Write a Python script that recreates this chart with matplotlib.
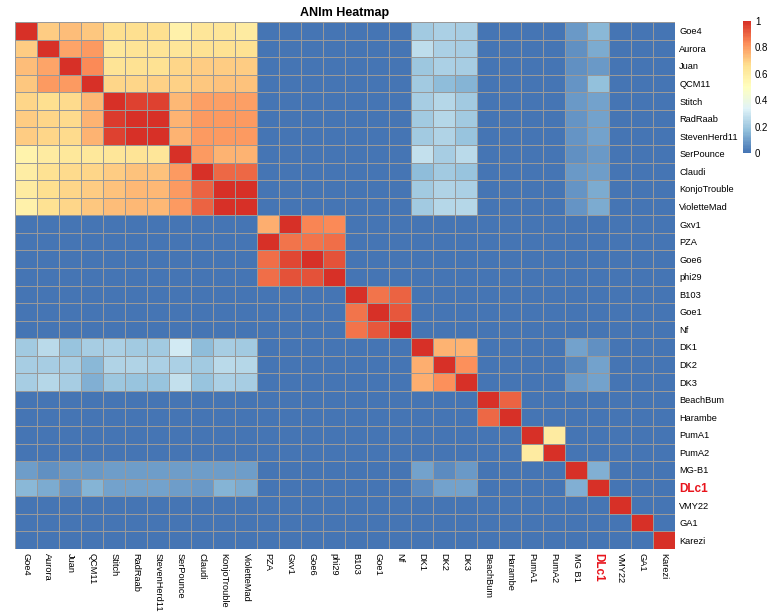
import numpy as np
import matplotlib
matplotlib.use("Agg")
import matplotlib.pyplot as plt
from matplotlib.colors import LinearSegmentedColormap

plt.rcParams['font.family'] = ['Liberation Sans', 'DejaVu Sans']

row_labels = ['Goe4', 'Aurora', 'Juan', 'QCM11', 'Stitch', 'RadRaab', 'StevenHerd11', 'SerPounce',
              'Claudi', 'KonjoTrouble', 'VioletteMad', 'Gxv1', 'PZA', 'Goe6', 'phi29', 'B103', 'Goe1',
              'Nf', 'DK1', 'DK2', 'DK3', 'BeachBum', 'Harambe', 'PumA1', 'PumA2', 'MG-B1', 'DLc1',
              'VMY22', 'GA1', 'Karezi']
col_labels = ['Goe4', 'Aurora', 'Juan', 'QCM11', 'Stitch', 'RadRaab', 'StevenHerd11', 'SerPounce',
              'Claudi', 'KonjoTrouble', 'VioletteMad', 'PZA', 'Gxv1', 'Goe6', 'phi29', 'B103', 'Goe1',
              'Nf', 'DK1', 'DK2', 'DK3', 'BeachBum', 'Harambe', 'PumA1', 'PumA2', 'MG B1', 'DLc1',
              'VMY22', 'GA1', 'Karezi']
highlight = 'DLc1'

# ANIm identity values, one row per genome (columns follow col_labels)
anim = [
    [1.00,.70,.73,.71,.66,.66,.66,.58,.63,.63,.60, 0,0,0,0,0,0,0, .20,.22,.21, 0,0,0,0, .08,.15, 0,0,0],
    [.70,1.00,.78,.80,.62,.64,.64,.63,.65,.65,.65, 0,0,0,0,0,0,0, .26,.22,.21, 0,0,0,0, .06,.12, 0,0,0],
    [.73,.78,1.00,.83,.64,.65,.65,.68,.70,.70,.70, 0,0,0,0,0,0,0, .19,.22,.21, 0,0,0,0, .06,.08, 0,0,0],
    [.71,.80,.80,1.00,.68,.68,.69,.69,.71,.72,.72, 0,0,0,0,0,0,0, .20,.16,.14, 0,0,0,0, .07,.17, 0,0,0],
    [.68,.66,.67,.74,1.00,.96,.96,.74,.79,.79,.79, 0,0,0,0,0,0,0, .21,.24,.20, 0,0,0,0, .08,.10, 0,0,0],
    [.70,.68,.67,.75,.97,1.00,1.00,.75,.80,.80,.80, 0,0,0,0,0,0,0, .20,.24,.20, 0,0,0,0, .07,.10, 0,0,0],
    [.70,.68,.67,.75,.96,1.00,1.00,.75,.80,.80,.80, 0,0,0,0,0,0,0, .20,.23,.18, 0,0,0,0, .07,.10, 0,0,0],
    [.56,.60,.62,.62,.63,.64,.63,1.00,.80,.75,.75, 0,0,0,0,0,0,0, .27,.21,.25, 0,0,0,0, .06,.08, 0,0,0],
    [.59,.65,.67,.68,.70,.72,.72,.80,1.00,.89,.89, 0,0,0,0,0,0,0, .16,.20,.18, 0,0,0,0, .08,.09, 0,0,0],
    [.60,.66,.68,.70,.72,.74,.74,.80,.90,1.00,1.00, 0,0,0,0,0,0,0, .20,.23,.22, 0,0,0,0, .07,.12, 0,0,0],
    [.58,.65,.68,.71,.73,.74,.74,.80,.90,1.00,1.00, 0,0,0,0,0,0,0, .20,.24,.24, 0,0,0,0, .07,.12, 0,0,0],
    [0,0,0,0,0,0,0,0,0,0,0, .76,1.00,.84,.83, 0,0,0, 0,0,0, 0,0,0,0, 0,0, 0,0,0],
    [0,0,0,0,0,0,0,0,0,0,0, 1.00,.87,.87,.88, 0,0,0, 0,0,0, 0,0,0,0, 0,0, 0,0,0],
    [0,0,0,0,0,0,0,0,0,0,0, .88,.95,1.00,.93, 0,0,0, 0,0,0, 0,0,0,0, 0,0, 0,0,0],
    [0,0,0,0,0,0,0,0,0,0,0, .88,.93,.93,1.00, 0,0,0, 0,0,0, 0,0,0,0, 0,0, 0,0,0],
    [0,0,0,0,0,0,0,0,0,0,0, 0,0,0,0, 1.00,.87,.90, 0,0,0, 0,0,0,0, 0,0, 0,0,0],
    [0,0,0,0,0,0,0,0,0,0,0, 0,0,0,0, .87,1.00,.92, 0,0,0, 0,0,0,0, 0,0, 0,0,0],
    [0,0,0,0,0,0,0,0,0,0,0, 0,0,0,0, .87,.92,1.00, 0,0,0, 0,0,0,0, 0,0, 0,0,0],
    [.20,.25,.18,.21,.22,.20,.20,.30,.16,.21,.20, 0,0,0,0,0,0,0, 1.00,.75,.75, 0,0,0,0, .10,.06, 0,0,0],
    [.21,.21,.21,.15,.23,.23,.22,.22,.20,.25,.24, 0,0,0,0,0,0,0, .76,1.00,.82, 0,0,0,0, .04,.10, 0,0,0],
    [.21,.24,.21,.13,.19,.18,.18,.27,.18,.22,.21, 0,0,0,0,0,0,0, .76,.82,1.00, 0,0,0,0, .08,.10, 0,0,0],
    [0,0,0,0,0,0,0,0,0,0,0, 0,0,0,0,0,0,0, 0,0,0, 1.00,.90, 0,0, 0,0, 0,0,0],
    [0,0,0,0,0,0,0,0,0,0,0, 0,0,0,0,0,0,0, 0,0,0, .89,1.00, 0,0, 0,0, 0,0,0],
    [0,0,0,0,0,0,0,0,0,0,0, 0,0,0,0,0,0,0, 0,0,0, 0,0, 1.00,.60, 0,0, 0,0,0],
    [0,0,0,0,0,0,0,0,0,0,0, 0,0,0,0,0,0,0, 0,0,0, 0,0, .60,1.00, 0,0, 0,0,0],
    [.09,.06,.08,.08,.09,.09,.09,.09,.09,.09,.09, 0,0,0,0,0,0,0, .10,.05,.08, 0,0,0,0, 1.00,.13, 0,0,0],
    [.15,.12,.07,.14,.10,.10,.10,.09,.08,.14,.12, 0,0,0,0,0,0,0, .05,.10,.10, 0,0,0,0, .13,1.00, 0,0,0],
    [0,0,0,0,0,0,0,0,0,0,0, 0,0,0,0,0,0,0, 0,0,0, 0,0,0,0, 0,0, 1.00,0,0],
    [0,0,0,0,0,0,0,0,0,0,0, 0,0,0,0,0,0,0, 0,0,0, 0,0,0,0, 0,0, 0,1.00,0],
    [0,0,0,0,0,0,0,0,0,0,0, 0,0,0,0,0,0,0, 0,0,0, 0,0,0,0, 0,0, 0,0,1.00],
]
cbar_ticks = [0, 0.2, 0.4, 0.6, 0.8, 1]

# pheatmap default palette: rev(RdYlBu, 7)
cmap = LinearSegmentedColormap.from_list(
    'pheat', ['#4575B4', '#91BFDB', '#E0F3F8', '#FFFFBF', '#FEE090', '#FC8D59', '#D73027'], N=100)

mat = np.array(anim)
fig = plt.figure(figsize=(7.72, 6.13), dpi=100)
ax = fig.add_axes([0.0194, 0.1044, 0.855, 0.8597])
mesh = ax.pcolormesh(mat, cmap=cmap, vmin=0, vmax=1, edgecolors='#999999', linewidth=0.7)
ax.set_xlim(0, mat.shape[1])
ax.set_ylim(mat.shape[0], 0)
for s in ax.spines.values():
    s.set_visible(False)

ax.set_xticks(np.arange(len(col_labels)) + 0.5)
ax.set_xticklabels(col_labels, rotation=-90, fontsize=6.7, va='top', ha='center')
ax.yaxis.tick_right()
ax.set_yticks(np.arange(len(row_labels)) + 0.5)
ax.set_yticklabels(row_labels, fontsize=6.7)
ax.tick_params(length=0, pad=3)
for lbl in ax.get_xticklabels() + ax.get_yticklabels():
    if lbl.get_text() == highlight:
        lbl.set_color('#E8141C')
        lbl.set_fontweight('bold')
        lbl.set_fontsize(8.5)

ax.set_title('ANIm Heatmap', fontsize=9, fontweight='bold', pad=4)

cax = fig.add_axes([0.962, 0.7504, 0.0104, 0.2153])
cb = fig.colorbar(mesh, cax=cax, ticks=cbar_ticks)
cb.outline.set_visible(False)
cb.ax.set_yticklabels(['0', '0.2', '0.4', '0.6', '0.8', '1'])
cb.ax.tick_params(length=0, labelsize=7, pad=3)

fig.savefig('out.png', dpi=100)
